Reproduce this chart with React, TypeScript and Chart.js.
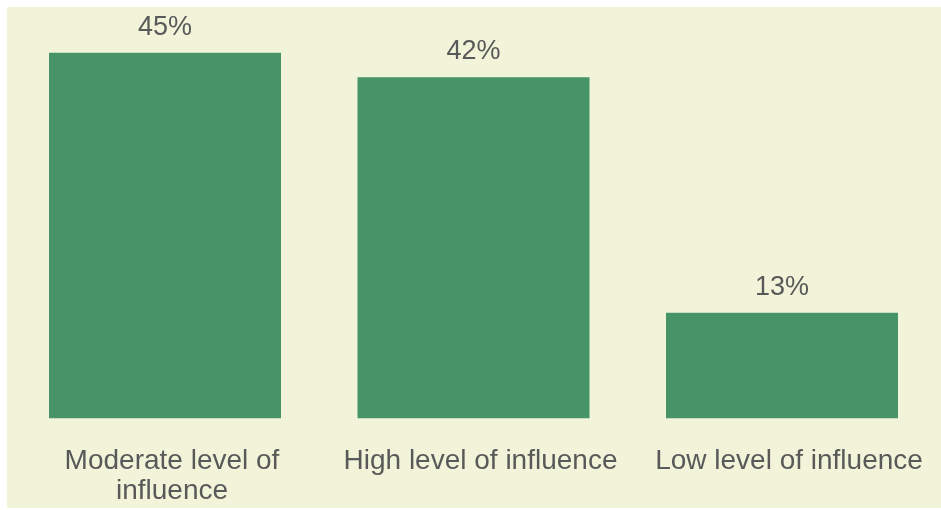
import React, { useEffect, useRef } from "react";
import { Chart, registerables } from "chart.js";

Chart.register(...registerables);

const categories: (string | string[])[] = [
  ["Moderate level of", "influence"],
  "High level of influence",
  "Low level of influence",
];
const values: number[] = [45, 42, 13];
const valueLabels: string[] = ["45%", "42%", "13%"];

const BAR_COLOR = "#469467";
const BG_COLOR = "#f2f4da";
const TEXT_COLOR = "#595959";
const FONT = "Arial, 'Liberation Sans', sans-serif";

const valueLabelPlugin = {
  id: "valueLabels",
  afterDatasetsDraw(chart: any) {
    const ctx = chart.ctx;
    const meta = chart.getDatasetMeta(0);
    ctx.save();
    ctx.fillStyle = TEXT_COLOR;
    ctx.font = `27px ${FONT}`;
    ctx.textAlign = "center";
    ctx.textBaseline = "alphabetic";
    meta.data.forEach((bar: any, i: number) => {
      ctx.fillText(valueLabels[i], bar.x, bar.y - 18);
    });
    ctx.restore();
  },
};

export default function App() {
  const canvasRef = useRef<HTMLCanvasElement | null>(null);

  useEffect(() => {
    if (!canvasRef.current) return;
    const chart = new Chart(canvasRef.current, {
      type: "bar",
      data: {
        labels: categories,
        datasets: [
          {
            data: values,
            backgroundColor: BAR_COLOR,
            borderWidth: 0,
            categoryPercentage: 1,
            barPercentage: 0.752,
          },
        ],
      },
      options: {
        animation: false,
        responsive: true,
        maintainAspectRatio: false,
        layout: { padding: { left: 3.75, right: 4.75, top: 3.5, bottom: -26 } },
        plugins: {
          legend: { display: false },
          tooltip: { enabled: false },
        },
        scales: {
          x: {
            grid: { display: false, drawTicks: false },
            border: { display: false },
            afterFit: (scale: any) => {
              scale.paddingLeft = 0;
              scale.paddingRight = 0;
            },
            ticks: {
              color: TEXT_COLOR,
              font: { family: FONT, size: 28, lineHeight: 1.1 },
              padding: 27,
              labelOffset: 7,
              maxRotation: 0,
              autoSkip: false,
            },
          },
          y: {
            display: false,
            min: 0,
            max: 50.2,
          },
        },
      },
      plugins: [valueLabelPlugin],
    });
    return () => chart.destroy();
  }, []);

  return (
    <div
      style={{
        position: "absolute",
        left: 7,
        top: 7,
        width: 934,
        height: 501,
        background: BG_COLOR,
      }}
    >
      <canvas ref={canvasRef} />
    </div>
  );
}
